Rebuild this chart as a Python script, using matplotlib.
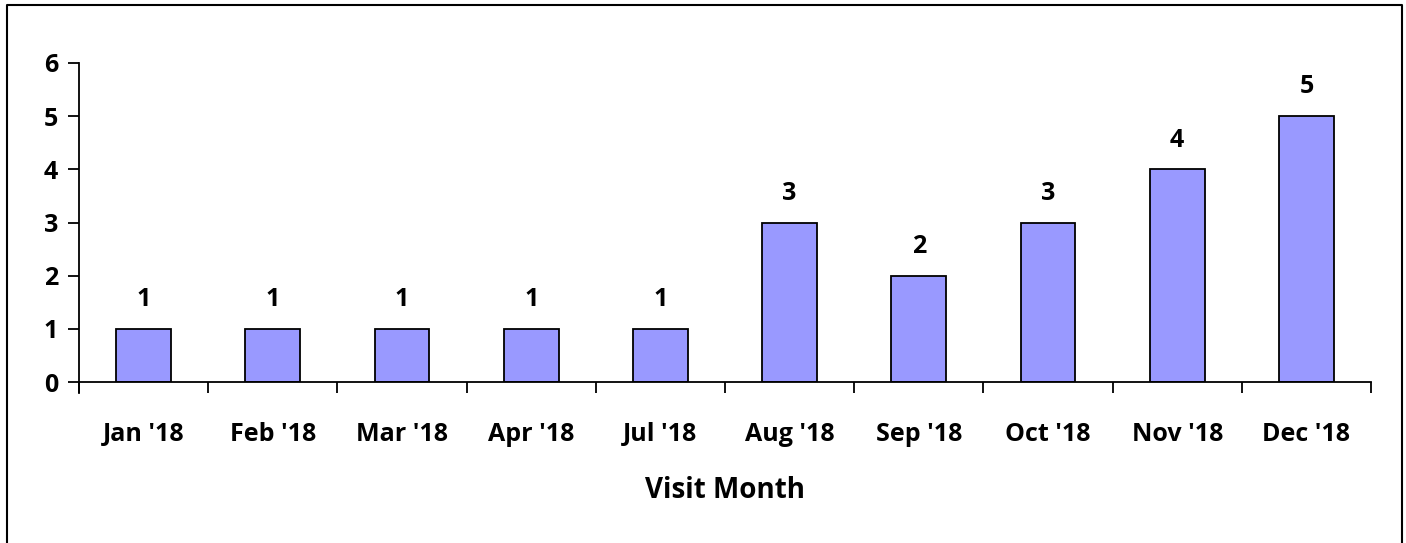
import matplotlib.pyplot as plt
from matplotlib.lines import Line2D

months = ["Jan '18", "Feb '18", "Mar '18", "Apr '18", "Jul '18",
          "Aug '18", "Sep '18", "Oct '18", "Nov '18", "Dec '18"]
visits = [1, 1, 1, 1, 1, 3, 2, 3, 4, 5]

plt.rcParams['font.family'] = ['Open Sans', 'DejaVu Sans']
plt.rcParams['font.weight'] = 'bold'

dpi = 100
fig = plt.figure(figsize=(1406/dpi, 543/dpi), dpi=dpi)
ax = fig.add_axes([79/1406, 1 - 382/543, (1371 - 79)/1406, (382 - 63)/543])

x = list(range(len(months)))
ax.bar(x, visits, width=0.425, color='#9999FF', edgecolor='black', linewidth=1.3)
for a, b in zip(x, visits):
    ax.annotate(str(b), (a, b), xytext=(0, 21), textcoords='offset points',
                ha='center', va='center', fontsize=18, fontweight='bold')

ax.set_xlim(-0.5, len(months) - 0.5)
ax.set_ylim(0, 6)
ax.set_yticks(range(7))
ax.set_xticks(x)
ax.set_xticklabels(months)
ax.set_xticks([i - 0.5 for i in range(len(months) + 1)], minor=True)
ax.tick_params(axis='x', which='major', length=0, pad=29, labelsize=18)
ax.tick_params(axis='x', which='minor', length=8, width=1.3, direction='out')
ax.tick_params(axis='y', length=8, width=1.3, pad=7, labelsize=18)
for lab in ax.get_xticklabels() + ax.get_yticklabels():
    lab.set_fontweight('bold')

ax.spines['top'].set_visible(False)
ax.spines['right'].set_visible(False)
ax.spines['left'].set_linewidth(1.3)
ax.spines['bottom'].set_linewidth(1.3)
ax.spines['left'].set_bounds(-0.2, 6)
ax.set_xlabel('Visit Month', fontsize=20, fontweight='bold', labelpad=21)

# outer frame
fig.add_artist(Line2D([7/1406, 7/1406, 1402/1406, 1402/1406],
                      [0, 1 - 5/543, 1 - 5/543, 0],
                      transform=fig.transFigure, color='black', linewidth=1.5))

fig.savefig('out.png', dpi=dpi)
